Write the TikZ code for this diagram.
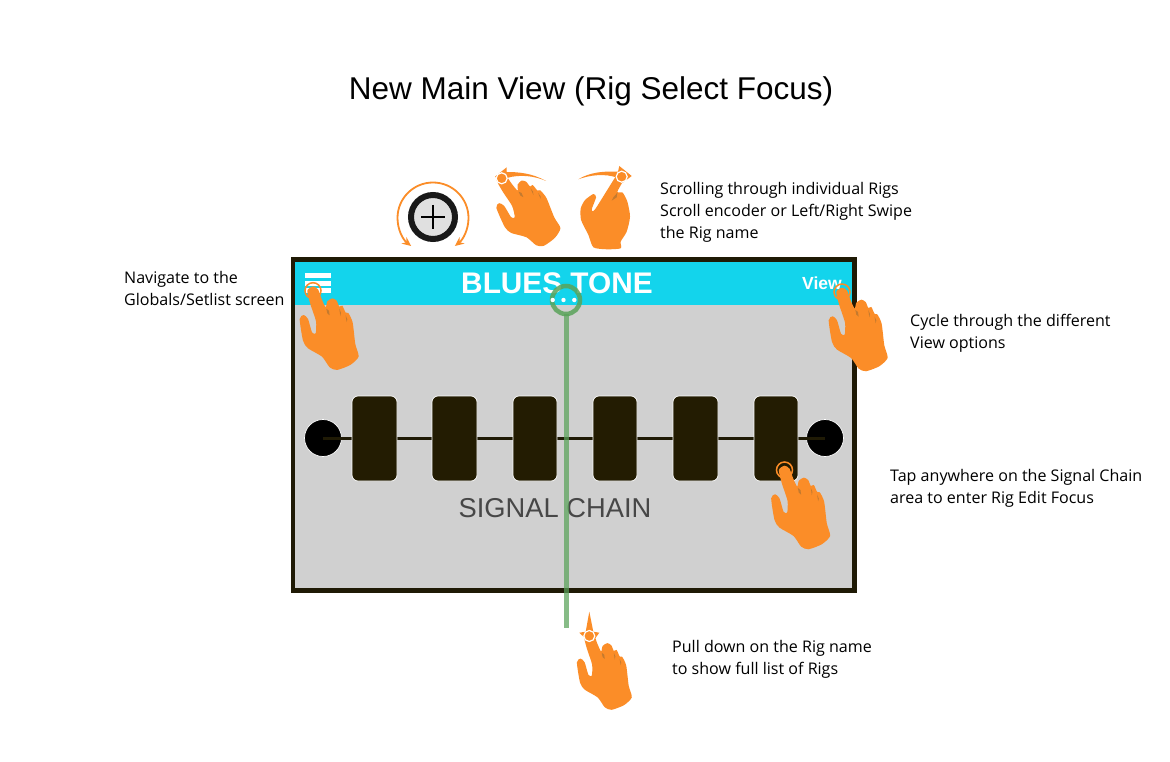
\documentclass[tikz,border=0pt]{standalone}
\usepackage{fontspec}
\usetikzlibrary{arrows.meta}
\setmainfont{Liberation Sans}
\newfontfamily\notefont{Open Sans}
\definecolor{handorange}{HTML}{FB8D28}
\definecolor{handdark}{HTML}{C47A2E}
\definecolor{barcyan}{HTML}{13D4EC}
\definecolor{screengray}{HTML}{D0D0D0}
\definecolor{darkframe}{HTML}{1F1A05}
\definecolor{blockdark}{HTML}{231C02}
\definecolor{pullgreen}{HTML}{5AA35A}
\tikzset{
  x=1pt,y=-1pt,
  note/.style={font=\notefont\fontsize{16.05}{22}\selectfont,align=left,anchor=west,inner sep=0,text=black},
  fxblock/.style={draw=white,line width=.7pt,fill=blockdark,rounded corners=6pt},
  jack/.style={circle,draw=white,line width=.7pt,fill=black,minimum size=37pt,inner sep=0},
  menubar/.style={fill=white},
  orangearc/.style={draw=handorange,line width=1.8pt},
  pics/hand/.style={code={
    \fill[handorange] plot[smooth cycle,tension=.4] coordinates {
      (0,-13)(15,-4)(26,25)(38,50)(43,32)(58,23)(71,30)(79,48)(88,45)(98,66)(106,67)(119,95)
      (127,160)(137,198)(112,223)(72,238)(50,230)(27,198)(-15,173)(-30,150)(-40,85)(-28,73)
      (-15,85)(-3,125)(8,128)(9,92)(-8,40)(-17,0)};
    \fill[handdark] (40,54)--(48,60)--(50,74)--(43,68)--cycle;
    \fill[handdark] (79,54)--(84,66)--(82,76)--cycle;
    \fill[handdark] (98,74)--(103,86)--(101,94)--cycle;
  }},
  pics/handturned/.style={code={
    \fill[handorange] plot[smooth cycle,tension=.4] coordinates {
      (0,-12)(8,5)(-13,45)(3,48)(17,75)(25,120)(15,165)(-3,195)(-3,215)(-45,218)(-85,212)
      (-100,175)(-122,130)(-123,95)(-110,70)(-85,52)(-77,62)(-90,98)(-80,98)(-13,-8)};
    \fill[handdark] (-13,48)--(-25,62)--(-30,72)--(-15,62)--cycle;
  }},
}
\begin{document}
\begin{tikzpicture}
\useasboundingbox[fill=white] (0,0) rectangle (1170,762);

% title
\node[font=\fontsize{31.5}{36}\selectfont,inner sep=0] (title) at (591,91) {New Main View (Rig Select Focus)};

% screen
\fill[darkframe] (291,257) rectangle (857,593);
\fill[screengray] (295,262) rectangle (852,588);
\fill[barcyan] (295,262) rectangle (852,305);

\node[font=\bfseries\fontsize{29.8}{32}\selectfont,text=white,inner sep=0] (rigname) at (557,283) {BLUES TONE};
\node[font=\bfseries\fontsize{17.5}{20}\selectfont,text=white,inner sep=0] (viewlabel) at (822,283) {View};
\fill[menubar] (305,273) rectangle (331,278);
\fill[menubar] (305,281) rectangle (331,286);
\fill[menubar] (305,288) rectangle (331,293);

% signal chain
\node[jack] (jackin) at (323,438) {};
\node[jack] (jackout) at (825,438) {};
\draw[darkframe,line width=3pt] (jackin.center) -- (jackout.center);
\foreach \n/\xa/\xb in {a/352/397,b/432/477,c/513/557,d/593/637,e/673/718,f/754/798}
  \draw[fxblock] (\xa,396) rectangle (\xb,481);
\node[font=\fontsize{27.3}{30}\selectfont,text=black!72,inner sep=0] (chain) at (555,508) {SIGNAL CHAIN};

% pull-down guide
\draw[pullgreen,opacity=.72,line width=5pt] (566.8,314) -- (566.8,628);
\draw[pullgreen,opacity=.85,line width=4.5pt] (566,300) circle (14);
\foreach \dx in {552.7,563.5,574.3} \fill[white] (\dx,300) circle (2.2);

% knob
\draw[orangearc,-{Stealth[length=9pt,width=8pt]}] (433,182.5) arc[start angle=-90,end angle=-232,radius=35.5];
\draw[orangearc,-{Stealth[length=9pt,width=8pt]}] (433,182.5) arc[start angle=-90,end angle=52,radius=35.5];
\draw[draw=black!90,fill=white!88!black,line width=6pt] (433,217) circle (22);
\draw[black,line width=1.8pt] (421,217) -- (445,217) (433,205) -- (433,229);

% left swipe
\fill[handorange] (506.7,167.3) -- (495,176.7) -- (503,183) -- (506.7,178)
  .. controls (520,174) and (535,176) .. (546,181)
  .. controls (532,173) and (518,172) .. (506.7,172) -- cycle;
\pic[scale=.32,rotate=15] at (501.7,178.3) {hand};
\draw[white,line width=1.2pt] (501.7,178.3) circle (5.5);
% right swipe
\fill[handorange] (619.3,166) -- (631.7,176) -- (622.7,182.7) -- (618,178)
  .. controls (605,173) and (590,175) .. (578.3,179.3)
  .. controls (590,172) and (605,171) .. (618,171.7) -- cycle;
\pic[scale=.333] at (621.7,176.7) {handturned};
\draw[white,line width=1.2pt] (621.7,176.7) circle (5.5);

% tap hands
\pic[scale=.333] at (313,290.7) {hand};
\draw[handorange,line width=1.5pt] (313,290.7) circle (8);
\pic[scale=.333] at (842,292) {hand};
\draw[handorange,line width=1.5pt] (842,292) circle (8);
\pic[scale=.333] at (784.5,470) {hand};
\draw[handorange,line width=1.5pt] (784.5,470) circle (8);

% pull hand
\fill[handorange] (589.3,611.7) -- (593.3,631.7) -- (599.3,632.7) -- (594,640) -- (587,640) -- (579.3,632.7) -- (585.7,631.7) -- cycle;
\pic[scale=.31] at (589.3,636) {hand};
\draw[white,line width=1.2pt] (589.3,636) circle (5.5);

% notes
\node[note] (n1) at (660,212.5) {Scrolling through individual Rigs\\Scroll encoder or Left/Right Swipe\\the Rig name};
\node[note] (n2) at (124,288.5) {Navigate to the\\Globals/Setlist screen};
\node[note] (n3) at (910,333.5) {Cycle through the different\\View options};
\node[note] (n4) at (890,488.5) {Tap anywhere on the Signal Chain\\area to enter Rig Edit Focus};
\node[note] (n5) at (672,659.5) {Pull down on the Rig name\\to show full list of Rigs};
\end{tikzpicture}
\end{document}
